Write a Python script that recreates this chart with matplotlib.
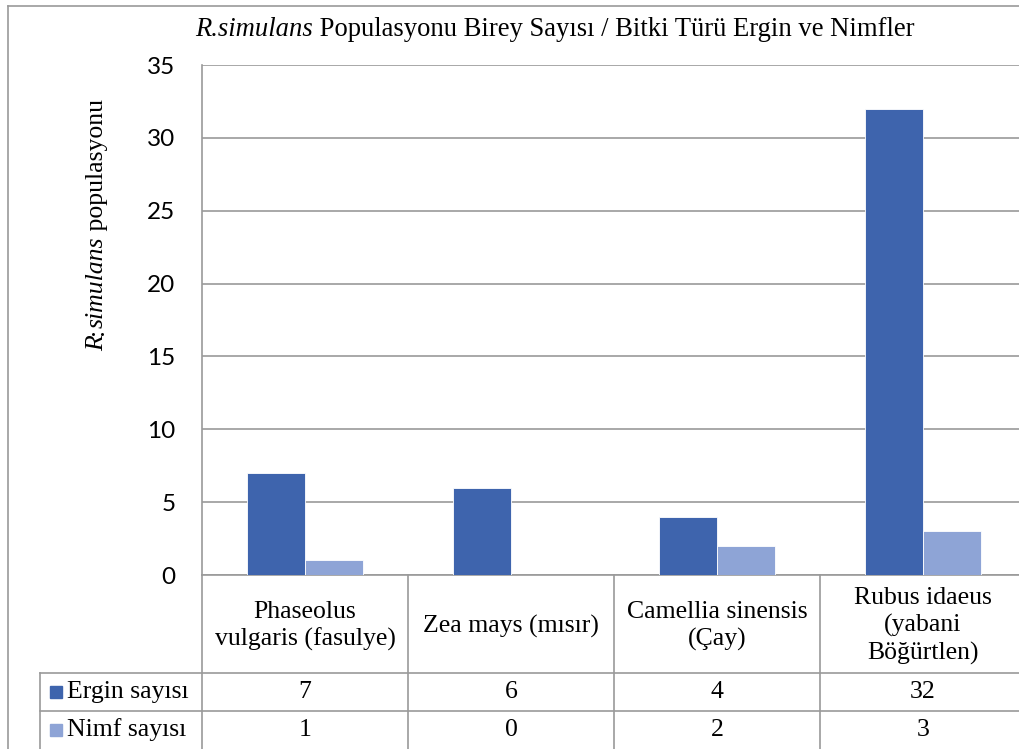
import matplotlib.pyplot as plt
from matplotlib.lines import Line2D
from matplotlib.patches import Rectangle
from matplotlib.transforms import blended_transform_factory, offset_copy

categories = ['Phaseolus\nvulgaris (fasulye)', 'Zea mays (mısır)',
              'Camellia sinensis\n(Çay)', 'Rubus idaeus\n(yabani\nBöğürtlen)']
ergin = [7, 6, 4, 32]
nimf = [1, 0, 2, 3]
series_names = ['Ergin sayısı', 'Nimf sayısı']
yticks = [0, 5, 10, 15, 20, 25, 30, 35]
title_parts = [('R.simulans', 'italic'), (' Populasyonu Birey Sayısı / Bitki Türü Ergin ve Nimfler', 'normal')]
ylabel_parts = [('R', 'italic'), (':', 'normal'), ('simulans', 'italic'), (' populasyonu', 'normal')]

dark = '#3E64AD'
light = '#8EA4D6'
grey = '#9a9a9a'
serif = 'Liberation Serif'
fs = 18.5

W, H = 1019, 749
fig = plt.figure(figsize=(W / 100, H / 100), dpi=100)


def fx(x):
    return x / W


def fy(y):
    return 1 - y / H


def rich_text(parts, cx, cy, size, rotation=0):
    # lay out pieces of mixed style one after another, centred on (cx, cy) in px
    r = fig.canvas.get_renderer()
    widths = []
    for s, st in parts:
        t = fig.text(0, 0, s, fontsize=size, family=serif, style=st)
        widths.append(t.get_window_extent(r).width)
        t.remove()
    pos = -sum(widths) / 2
    for (s, st), w in zip(parts, widths):
        if rotation == 0:
            trans = offset_copy(fig.transFigure, fig=fig, x=pos, y=0, units='dots')
            fig.text(fx(cx), fy(cy), s, fontsize=size, family=serif, style=st,
                     transform=trans, ha='left', va='center')
        else:
            trans = offset_copy(fig.transFigure, fig=fig, x=0, y=pos, units='dots')
            fig.text(fx(cx), fy(cy), s, fontsize=size, family=serif, style=st, rotation=rotation,
                     transform=trans, ha='center', va='bottom')
        pos += w


# plot area: x 202..1026 px, y 65..575 px
ax = fig.add_axes([fx(202), fy(575), 824 / W, 510 / H])
x = list(range(len(categories)))
bw = 0.28
ax.bar([i - bw / 2 for i in x], ergin, bw, color=dark, edgecolor='white', linewidth=0.6, zorder=3)
ax.bar([i + bw / 2 for i in x], nimf, bw, color=light, edgecolor='white', linewidth=0.6, zorder=3)
ax.set_xlim(-0.5, len(categories) - 0.5)
ax.set_ylim(0, 35)
ax.set_yticks(yticks)
ax.set_xticks([])
ax.grid(axis='y', color=grey, linewidth=1.2, zorder=0)
for s in ['top', 'right']:
    ax.spines[s].set_visible(False)
ax.spines['left'].set_color(grey)
ax.spines['bottom'].set_color(grey)
ax.spines['left'].set_linewidth(1.2)
ax.spines['bottom'].set_linewidth(1.2)
ax.tick_params(axis='y', length=0, pad=19, labelsize=17.5)
for t in ax.get_yticklabels():
    t.set_fontfamily('Lato')

# data table under the axis
tr = blended_transform_factory(ax.transData, fig.transFigure)
lk = dict(color=grey, linewidth=1.2, clip_on=False)
for b in [i - 0.5 for i in range(len(categories) + 1)]:
    fig.add_artist(Line2D([b, b], [fy(575), fy(749)], transform=tr, **lk))
for yy in [673, 711]:
    fig.add_artist(Line2D([fx(40), 1], [fy(yy), fy(yy)], transform=fig.transFigure, **lk))
fig.add_artist(Line2D([fx(40), fx(40)], [fy(673), fy(749)], transform=fig.transFigure, **lk))

for i, c in enumerate(categories):
    fig.text(i, fy(626), c, transform=tr, ha='center', va='center', multialignment='center',
             fontsize=fs, family=serif, linespacing=1.25)
rows = [ergin, nimf]
row_y = [692, 730]
for vals, name, col, yy in zip(rows, series_names, [dark, light], row_y):
    for i, v in enumerate(vals):
        fig.text(i, fy(yy), str(v), transform=tr, ha='center', va='center', fontsize=fs, family=serif)
    fig.add_artist(Rectangle((fx(50), fy(yy + 6)), 12 / W, 12 / H, transform=fig.transFigure,
                             color=col, clip_on=False))
    fig.text(fx(67), fy(yy), name, ha='left', va='center', fontsize=fs, family=serif)

# titles
rich_text(title_parts, 555, 30, 19.2)
rich_text(ylabel_parts, 97, 225, fs, rotation=90)

# chart border
fig.add_artist(Line2D([fx(8), 1], [fy(6), fy(6)], transform=fig.transFigure, **lk))
fig.add_artist(Line2D([fx(8), fx(8)], [fy(6), 0], transform=fig.transFigure, **lk))

fig.savefig('out.png', dpi=100)
